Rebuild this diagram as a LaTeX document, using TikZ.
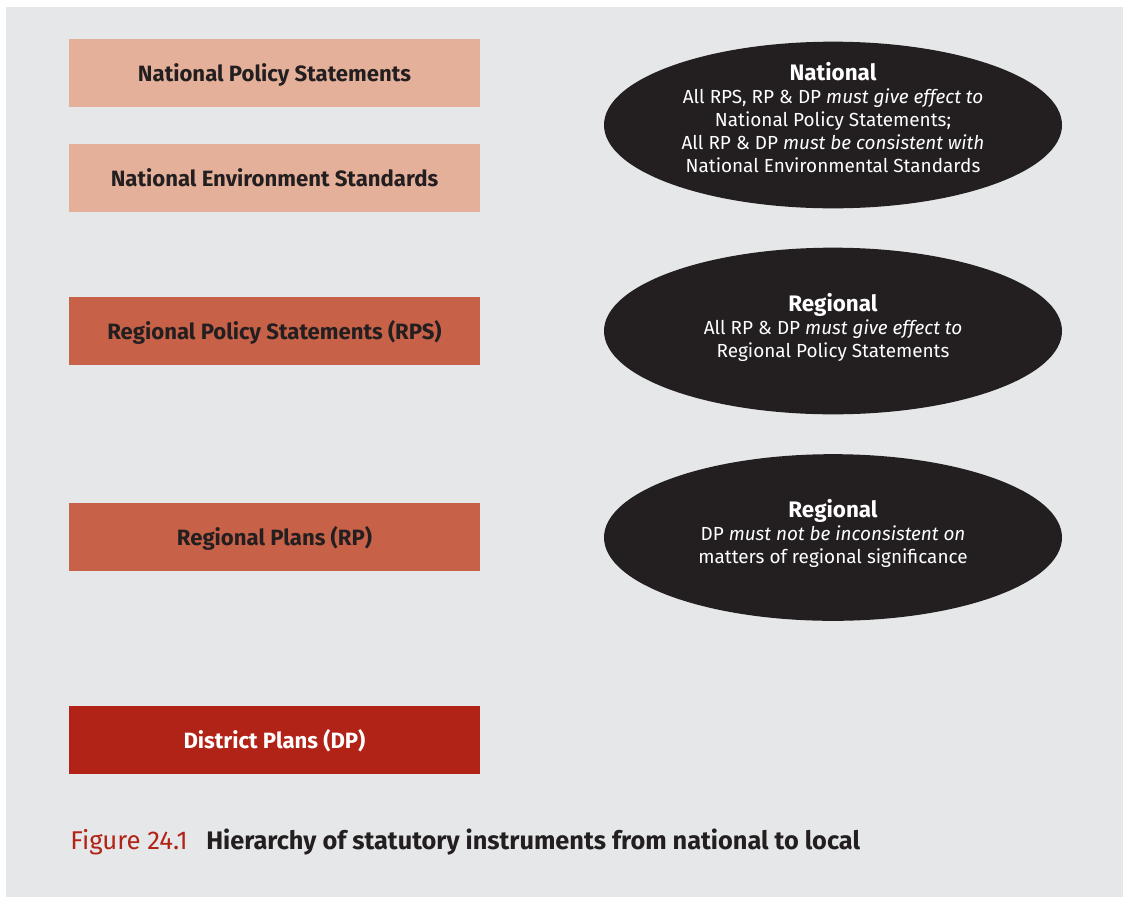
\documentclass[tikz,border=0pt]{standalone}
\usepackage{fontspec}
\setmainfont{Fira Sans}
\usetikzlibrary{shapes.geometric}
\definecolor{panel}{HTML}{E6E7E9}
\definecolor{natbox}{HTML}{E5B09A}
\definecolor{regbox}{HTML}{C76147}
\definecolor{dpbox}{HTML}{B22317}
\definecolor{ellfill}{HTML}{231F20}
\definecolor{txt}{HTML}{231F20}
\newcommand{\myruletitle}{\bfseries\fontsize{16.8}{17.25}\selectfont}
\tikzset{
  px/.style={x=0.75pt,y=-0.75pt},
  levelbox/.style={rectangle, minimum width=308.25pt, minimum height=51pt, inner sep=0pt,
    text height=15pt, text depth=3pt,
    font=\fontsize{16.6}{19}\selectfont\bfseries, text=txt},
  rule/.style={ellipse, fill=ellfill, minimum width=343.5pt, minimum height=125pt, inner sep=0pt},
  ruletext/.style={text=white, align=center, inner sep=0pt, font=\fontsize{14.2}{17.25}\selectfont},
}
\begin{document}
\begin{tikzpicture}[px]
\useasboundingbox (0,0) rectangle (1125,900);
\fill[white] (0,0) rectangle (1125,900);
\fill[panel] (6,7) rectangle (1123,897);
\node[levelbox, fill=natbox] (nps) at (274.5,73) {National Policy Statements};
\node[levelbox, fill=natbox] (nes) at (274.5,178) {National Environment Standards};
\node[levelbox, fill=regbox] (rps) at (274.5,331) {Regional Policy Statements (RPS)};
\node[levelbox, fill=regbox] (rp) at (274.5,537) {Regional Plans (RP)};
\node[levelbox, fill=dpbox, text=white] (dp) at (274.5,740) {District Plans (DP)};
\node[rule] (e1) at (833,125) {};
\node[rule] (e2) at (833,331) {};
\node[rule] (e3) at (833,537.5) {};
\node[ruletext] (t1) at ([yshift=5.6pt]e1.center) {{\myruletitle National}\\All RPS, RP \& DP \textit{must give effect to}\\National Policy Statements;\\All RP \& DP \textit{must be consistent with}\\National Environmental Standards};
\node[ruletext] (t2) at ([yshift=2.5pt]e2.center) {{\myruletitle Regional}\\All RP \& DP \textit{must give effect to}\\Regional Policy Statements};
\node[ruletext] (t3) at ([yshift=3pt]e3.center) {{\myruletitle Regional}\\DP \textit{must not be inconsistent on}\\matters of regional significance};
\node[anchor=base west, inner sep=0pt, font=\fontsize{19.3}{22}\selectfont, text=dpbox] (fig) at (70,849.5) {Figure 24.1};
\node[anchor=base west, inner sep=0pt, font=\fontsize{19}{22}\selectfont\bfseries, text=txt] (cap) at (206,849.5) {Hierarchy of statutory instruments from national to local};
\end{tikzpicture}
\end{document}
